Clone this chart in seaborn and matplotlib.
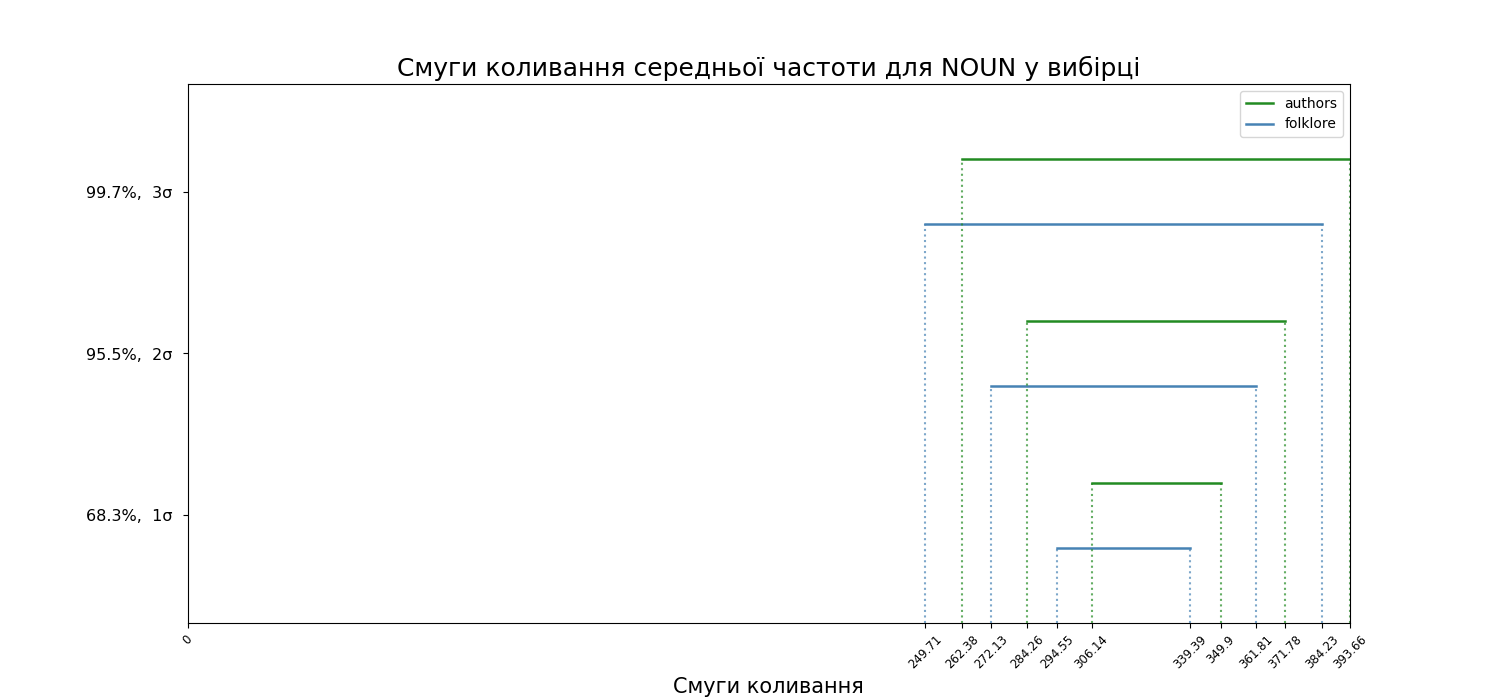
import pandas as pd
import matplotlib
matplotlib.use("Agg")
import matplotlib.pyplot as plt
import seaborn as sns

# Band endpoints (1σ, 2σ, 3σ)
sigma_levels = [1, 2, 3]
sigma_labels = ["68.3%,  1σ ", "95.5%,  2σ ", "99.7%,  3σ "]
authors_low = [306.14, 284.26, 262.38]
authors_high = [349.9, 371.78, 393.66]
folklore_low = [294.55, 272.13, 249.71]
folklore_high = [339.39, 361.81, 384.23]
groups = ["authors", "folklore"]
offsets = {"authors": 0.2, "folklore": -0.2}
colors = {"authors": "forestgreen", "folklore": "steelblue"}

# plain matplotlib look
sns.reset_orig()
plt.rcParams["font.family"] = ["DejaVu Sans"]

# Build long table of segment endpoints
rows = []
bounds = {"authors": (authors_low, authors_high), "folklore": (folklore_low, folklore_high)}
for g in groups:
    lows, highs = bounds[g]
    for lvl, lo, hi in zip(sigma_levels, lows, highs):
        y = lvl + offsets[g]
        rows.append({"group": g, "band": f"{g}_{lvl}", "x": lo, "y": y})
        rows.append({"group": g, "band": f"{g}_{lvl}", "x": hi, "y": y})
df = pd.DataFrame(rows)

fig, ax = plt.subplots(figsize=(15, 7))
ymin, ymax = 1 / 3, 11 / 3

sns.lineplot(data=df, x="x", y="y", hue="group", units="band", estimator=None,
             palette=colors, linewidth=1.8, sort=False, ax=ax)

for _, r in df.iterrows():
    ax.vlines(r["x"], ymin, r["y"], colors=colors[r["group"]], linestyles=":",
              linewidth=1.5, alpha=0.7)

ticks = [0] + sorted(df["x"].unique())
ax.set_xticks(ticks)
ax.set_xticklabels([f"{t:g}" for t in ticks], rotation=45, fontsize=8.5)
ax.set_yticks(sigma_levels)
ax.set_yticklabels(sigma_labels, fontsize=11.5)
ax.set_xlim(0, max(ticks))
ax.set_ylim(ymin, ymax)

ax.set_title("Смуги коливання середньої частоти для NOUN у вибірці", fontsize=18)
ax.set_xlabel("Смуги коливання", fontsize=15)
ax.set_ylabel("")
ax.legend(loc="upper right", fontsize=10)

plt.savefig("out.png", dpi=100)
plt.close()
